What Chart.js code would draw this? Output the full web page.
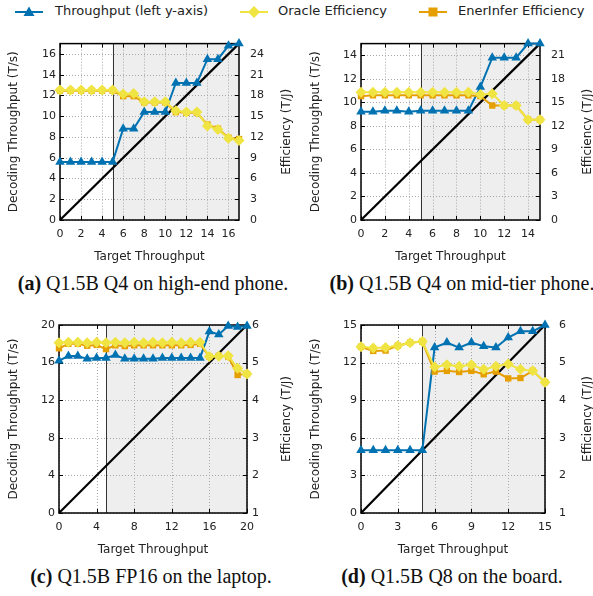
<!DOCTYPE html>
<html>
<head>
<meta charset="utf-8">
<script src="https://cdn.jsdelivr.net/npm/chart.js@4.4.1/dist/chart.umd.min.js"></script>
<style>
  body { margin: 0; background: #fff; }
  #page { position: relative; width: 593px; height: 596px; overflow: hidden; font-family: "DejaVu Sans", sans-serif; color: #222; }
  canvas { position: absolute; }
  .leg-icon { position: absolute; top: 5px; }
  .leg-text { position: absolute; top: 3px; font-size: 13px; line-height: 16px; white-space: nowrap; }
  .caption { position: absolute; font-family: "Liberation Serif", serif; font-size: 20px; color: #111; white-space: nowrap; transform: translateX(-50%); }
</style>
</head>
<body>
<div id="page">
  <svg class="leg-icon" style="left:15px" width="30" height="14"><line x1="0" y1="7" x2="28" y2="7" stroke="#0072b2" stroke-width="2"/><polygon points="14,1.5 19.5,11 8.5,11" fill="#0072b2"/></svg>
  <div class="leg-text" style="left:55px">Throughput (left y-axis)</div>
  <svg class="leg-icon" style="left:240px" width="30" height="14"><line x1="0" y1="7" x2="28" y2="7" stroke="#f0e442" stroke-width="2"/><polygon points="14,1 20,7 14,13 8,7" fill="#f0e442"/></svg>
  <div class="leg-text" style="left:278px">Oracle Efficiency</div>
  <svg class="leg-icon" style="left:419px" width="30" height="14"><line x1="0" y1="7" x2="28" y2="7" stroke="#e69f00" stroke-width="2"/><rect x="9.5" y="2.5" width="9" height="9" fill="#e69f00"/></svg>
  <div class="leg-text" style="left:458px">EnerInfer Efficiency</div>

  <canvas id="chartA" width="296" height="246" style="left:0;top:26px"></canvas>
  <canvas id="chartB" width="297" height="246" style="left:296px;top:26px"></canvas>
  <canvas id="chartC" width="296" height="260" style="left:0;top:300px"></canvas>
  <canvas id="chartD" width="297" height="260" style="left:296px;top:300px"></canvas>

  <div class="caption" style="left:153px;top:272px"><b>(a)</b> Q1.5B Q4 on high-end phone.</div>
  <div class="caption" style="left:462px;top:272px"><b>(b)</b> Q1.5B Q4 on mid-tier phone.</div>
  <div class="caption" style="left:151px;top:565px"><b>(c)</b> Q1.5B FP16 on the laptop.</div>
  <div class="caption" style="left:452px;top:565px"><b>(d)</b> Q1.5B Q8 on the board.</div>
</div>
<script>
// (a) high-end phone
const aTarget = [0, 1, 2, 3, 4, 5, 6, 7, 8, 9, 10, 11, 12, 13, 14, 15, 16, 17];
const aThroughput = [5.6, 5.6, 5.6, 5.6, 5.6, 5.6, 8.8, 8.8, 10.4, 10.4, 10.4, 13.2, 13.2, 13.2, 15.5, 15.5, 16.8, 17.0];
const aOracle = [18.8, 18.8, 18.8, 18.8, 18.8, 18.8, 18.2, 18.3, 17.1, 17.1, 17.1, 15.8, 15.6, 15.6, 13.6, 13.1, 11.8, 11.5];
const aEnerInfer = [18.7, 18.7, 18.7, 18.7, 18.7, 18.7, 17.9, 17.9, 17.0, 17.0, 17.0, 15.6, 15.5, 15.5, 13.8, 13.2, 11.9, 11.7];
const aXTicks = [0, 2, 4, 6, 8, 10, 12, 14, 16];
const aYTicks = [0, 2, 4, 6, 8, 10, 12, 14, 16];
const aY2Ticks = [0, 3, 6, 9, 12, 15, 18, 21, 24];

// (b) mid-tier phone
const bTarget = [0, 1, 2, 3, 4, 5, 6, 7, 8, 9, 10, 11, 12, 13, 14, 15];
const bThroughput = [9.2, 9.2, 9.3, 9.3, 9.2, 9.3, 9.3, 9.3, 9.3, 9.3, 11.3, 13.8, 13.8, 13.8, 15.0, 15.0];
const bOracle = [16.3, 16.3, 16.3, 16.3, 16.3, 16.3, 16.3, 16.3, 16.3, 16.3, 16.0, 16.1, 14.6, 14.6, 12.8, 12.8];
const bEnerInfer = [15.8, 15.9, 15.9, 15.9, 15.9, 15.9, 15.9, 15.9, 15.9, 15.9, 15.8, 14.6, 14.6, 14.6, 12.8, 12.8];
const bXTicks = [0, 2, 4, 6, 8, 10, 12, 14];
const bYTicks = [0, 2, 4, 6, 8, 10, 12, 14];
const bY2Ticks = [0, 3, 6, 9, 12, 15, 18, 21];

// (c) laptop
const cTarget = [0, 1, 2, 3, 4, 5, 6, 7, 8, 9, 10, 11, 12, 13, 14, 15, 16, 17, 18, 19, 20];
const cThroughput = [16.2, 16.7, 16.7, 16.4, 16.5, 16.5, 16.8, 16.4, 16.4, 16.4, 16.4, 16.5, 16.5, 16.5, 16.5, 16.5, 19.3, 19.0, 19.9, 19.8, 19.9];
const cOracle = [5.53, 5.54, 5.54, 5.53, 5.54, 5.53, 5.54, 5.53, 5.54, 5.53, 5.54, 5.53, 5.54, 5.53, 5.54, 5.54, 5.16, 5.17, 5.18, 4.85, 4.70];
const cEnerInfer = [5.38, 5.50, 5.50, 5.45, 5.47, 5.36, 5.46, 5.44, 5.46, 5.46, 5.46, 5.46, 5.46, 5.46, 5.47, 5.50, 5.16, 5.18, 5.16, 4.67, 4.70];
const cXTicks = [0, 4, 8, 12, 16, 20];
const cYTicks = [0, 4, 8, 12, 16, 20];
const cY2Ticks = [1, 2, 3, 4, 5, 6];

// (d) board
const dTarget = [0, 1, 2, 3, 4, 5, 6, 7, 8, 9, 10, 11, 12, 13, 14, 15];
const dThroughput = [5.0, 5.0, 5.0, 5.0, 5.0, 5.0, 13.2, 13.6, 13.2, 13.6, 13.3, 13.2, 14.0, 14.5, 14.5, 15.0];
const dOracle = [5.42, 5.39, 5.40, 5.45, 5.53, 5.56, 4.88, 4.94, 4.90, 4.94, 4.82, 4.90, 4.96, 4.82, 4.78, 4.48];
const dEnerInfer = [5.42, 5.31, 5.32, 5.45, 5.53, 5.56, 4.76, 4.78, 4.75, 4.78, 4.69, 4.76, 4.58, 4.59, 4.78, 4.48];
const dXTicks = [0, 3, 6, 9, 12, 15];
const dYTicks = [0, 3, 6, 9, 12, 15];
const dY2Ticks = [1, 2, 3, 4, 5, 6];

const splitAt = 5; // start of the shaded region
const blue = '#0072b2', yellow = '#f0e442', orange = '#e69f00';
const tickFont = { family: 'DejaVu Sans', size: 11 };

// shading, dotted grid, frame and inner tick marks, axis titles
const panelDeco = {
  id: 'panelDeco',
  beforeDraw(chart) {
    const { ctx, chartArea: a, scales: { x, y } } = chart;
    const xs = x.getPixelForValue(splitAt);
    ctx.save();
    ctx.fillStyle = '#eeeeee';
    ctx.fillRect(xs, a.top, a.right - xs, a.bottom - a.top);
    ctx.strokeStyle = '#a8a8a8';
    ctx.lineWidth = 1;
    ctx.setLineDash([1, 2]);
    ctx.beginPath();
    x.ticks.forEach(t => {
      const px = Math.round(x.getPixelForValue(t.value)) + 0.5;
      ctx.moveTo(px, a.top); ctx.lineTo(px, a.bottom);
    });
    y.ticks.forEach(t => {
      const py = Math.round(y.getPixelForValue(t.value)) + 0.5;
      ctx.moveTo(a.left, py); ctx.lineTo(a.right, py);
    });
    ctx.stroke();
    ctx.restore();
  },
  beforeDatasetsDraw(chart) {
    const { ctx, chartArea: a, scales: { x, y, y2 } } = chart;
    ctx.save();
    const xs = Math.round(x.getPixelForValue(splitAt)) + 0.5;
    ctx.strokeStyle = '#333';
    ctx.lineWidth = 1;
    ctx.beginPath();
    ctx.moveTo(xs, a.top); ctx.lineTo(xs, a.bottom);
    ctx.stroke();
    ctx.strokeStyle = '#000';
    ctx.beginPath();
    x.ticks.forEach(t => {
      const px = Math.round(x.getPixelForValue(t.value)) + 0.5;
      ctx.moveTo(px, a.bottom); ctx.lineTo(px, a.bottom - 4);
      ctx.moveTo(px, a.top); ctx.lineTo(px, a.top + 4);
    });
    y.ticks.forEach(t => {
      const py = Math.round(y.getPixelForValue(t.value)) + 0.5;
      ctx.moveTo(a.left, py); ctx.lineTo(a.left + 4, py);
    });
    y2.ticks.forEach(t => {
      const py = Math.round(y2.getPixelForValue(t.value)) + 0.5;
      ctx.moveTo(a.right, py); ctx.lineTo(a.right - 4, py);
    });
    ctx.stroke();
    ctx.lineWidth = 1.5;
    ctx.strokeRect(a.left, a.top, a.right - a.left, a.bottom - a.top);
    ctx.restore();
  },
  afterDraw(chart, args, opts) {
    const { ctx, chartArea: a } = chart;
    const cy = (a.top + a.bottom) / 2;
    ctx.save();
    ctx.fillStyle = '#222';
    ctx.font = '12px "DejaVu Sans"';
    ctx.textAlign = 'center';
    ctx.textBaseline = 'middle';
    ctx.fillText('Target Throughput', (a.left + a.right) / 2, a.bottom + 37);
    [[opts.leftX, 'Decoding Throughput (T/s)'], [opts.rightX, 'Efficiency (T/J)']].forEach(([tx, label]) => {
      ctx.save();
      ctx.translate(tx, cy);
      ctx.rotate(-Math.PI / 2);
      ctx.fillText(label, 0, 0);
      ctx.restore();
    });
    ctx.restore();
  }
};

function series(xs, ys) {
  return xs.map((v, i) => ({ x: v, y: ys[i] }));
}

function makePanel(id, p) {
  new Chart(document.getElementById(id), {
    type: 'line',
    data: {
      datasets: [
        { label: 'Oracle Efficiency', data: series(p.target, p.oracle), yAxisID: 'y2',
          borderColor: yellow, backgroundColor: yellow, pointStyle: 'rectRot', pointRadius: 5.5,
          borderWidth: 2, pointBorderWidth: 0, order: 0 },
        { label: 'EnerInfer Efficiency', data: series(p.target, p.ener), yAxisID: 'y2',
          borderColor: orange, backgroundColor: orange, pointStyle: 'rect', pointRadius: 4.5,
          borderWidth: 2, pointBorderWidth: 0, order: 1 },
        { label: 'Throughput (left y-axis)', data: series(p.target, p.thr), yAxisID: 'y',
          borderColor: blue, backgroundColor: blue, pointStyle: 'triangle', pointRadius: 5.5,
          borderWidth: 2, pointBorderWidth: 0, order: 2 },
        { label: 'y = x', data: [{ x: 0, y: 0 }, { x: p.xMax, y: p.xMax }], yAxisID: 'y',
          borderColor: '#000', borderWidth: 2.2, pointRadius: 0, order: 3 }
      ]
    },
    options: {
      responsive: false,
      animation: false,
      layout: { padding: { top: p.top, left: 0, right: 0, bottom: 0 } },
      datasets: { line: { clip: false, tension: 0 } },
      plugins: {
        legend: { display: false },
        tooltip: { enabled: false },
        panelDeco: { leftX: p.leftX, rightX: p.rightX }
      },
      scales: {
        x: {
          type: 'linear', min: 0, max: p.xMax,
          grid: { display: false, drawTicks: false }, border: { display: false },
          afterBuildTicks: s => { s.ticks = p.xTicks.map(v => ({ value: v })); },
          afterFit: s => { s.height = p.xH; },
          ticks: { font: tickFont, color: '#222', padding: 8, maxRotation: 0 }
        },
        y: {
          position: 'left', min: 0, max: p.yMax,
          grid: { display: false, drawTicks: false }, border: { display: false },
          afterBuildTicks: s => { s.ticks = p.yTicks.map(v => ({ value: v })); },
          afterFit: s => { s.width = p.leftW; },
          ticks: { font: tickFont, color: '#222', padding: 4 }
        },
        y2: {
          position: 'right', min: p.y2Min, max: p.y2Max,
          grid: { display: false, drawTicks: false }, border: { display: false },
          afterBuildTicks: s => { s.ticks = p.y2Ticks.map(v => ({ value: v })); },
          afterFit: s => { s.width = p.rightW; },
          ticks: { font: tickFont, color: '#222', padding: p.rightPad }
        }
      }
    },
    plugins: [panelDeco]
  });
}

makePanel('chartA', { target: aTarget, thr: aThroughput, oracle: aOracle, ener: aEnerInfer,
  xTicks: aXTicks, yTicks: aYTicks, y2Ticks: aY2Ticks, xMax: 17, yMax: 17, y2Min: 0, y2Max: 25.5,
  top: 6, xH: 52, leftW: 60, rightW: 57, rightPad: 11, leftX: 14, rightX: 287 });
makePanel('chartB', { target: bTarget, thr: bThroughput, oracle: bOracle, ener: bEnerInfer,
  xTicks: bXTicks, yTicks: bYTicks, y2Ticks: bY2Ticks, xMax: 15, yMax: 15, y2Min: 0, y2Max: 22.5,
  top: 6, xH: 52, leftW: 65, rightW: 53, rightPad: 11, leftX: 20, rightX: 292 });
makePanel('chartC', { target: cTarget, thr: cThroughput, oracle: cOracle, ener: cEnerInfer,
  xTicks: cXTicks, yTicks: cYTicks, y2Ticks: cY2Ticks, xMax: 20, yMax: 20, y2Min: 1, y2Max: 6,
  top: 25, xH: 47, leftW: 59, rightW: 49, rightPad: 5, leftX: 14, rightX: 287 });
makePanel('chartD', { target: dTarget, thr: dThroughput, oracle: dOracle, ener: dEnerInfer,
  xTicks: dXTicks, yTicks: dYTicks, y2Ticks: dY2Ticks, xMax: 15, yMax: 15, y2Min: 1, y2Max: 6,
  top: 25, xH: 47, leftW: 65, rightW: 48, rightPad: 14, leftX: 20, rightX: 292 });
</script>
</body>
</html>
